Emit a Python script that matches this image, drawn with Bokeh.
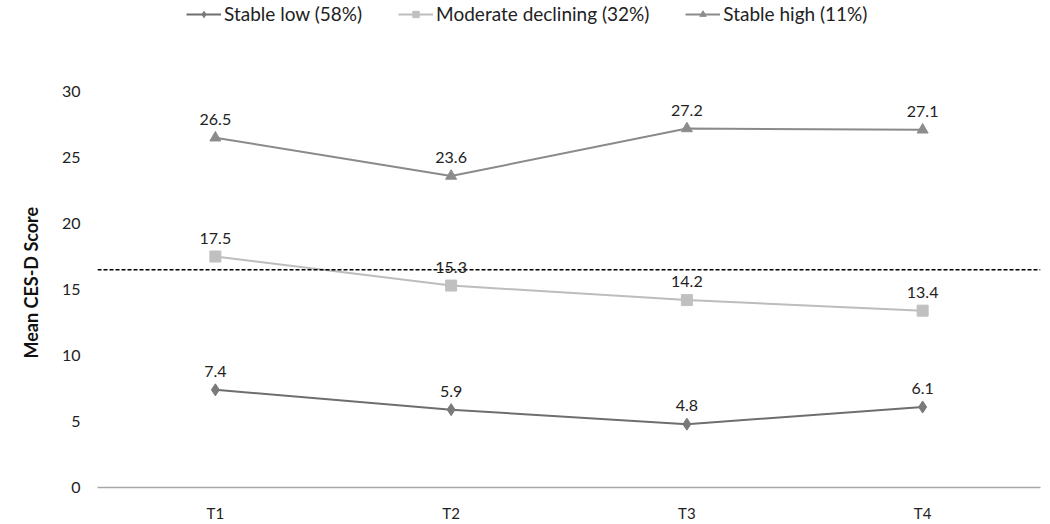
from bokeh.plotting import figure
from bokeh.models import (ColumnDataSource, Legend, LegendItem, LabelSet, Span,
                          Range1d, FixedTicker, FactorRange, Title)
from bokeh.core.properties import value
from bokeh.embed import file_html
from bokeh.resources import INLINE

times = ["T1", "T2", "T3", "T4"]
stable_low = [7.4, 5.9, 4.8, 6.1]
moderate_declining = [17.5, 15.3, 14.2, 13.4]
stable_high = [26.5, 23.6, 27.2, 27.1]
series_names = ["Stable low (58%)", "Moderate declining (32%)", "Stable high (11%)"]
cutoff = 16.5
y_ticks = [0, 5, 10, 15, 20, 25, 30]

FONT = "Lato"

p = figure(width=1050, height=524, x_range=FactorRange(factors=times, range_padding=0),
           y_range=Range1d(0, 36.9), output_backend="svg", toolbar_location=None,
           min_border_left=97, min_border_right=10, min_border_top=0, min_border_bottom=0)
p.outline_line_color = None
p.grid.grid_line_color = None
p.background_fill_color = "white"

# y axis
p.yaxis.ticker = FixedTicker(ticks=y_ticks)
p.yaxis.axis_line_color = None
p.yaxis.major_tick_line_color = None
p.yaxis.minor_tick_line_color = None
p.yaxis.major_tick_out = 0
p.yaxis.major_tick_in = 0
p.yaxis.major_label_standoff = 17
p.yaxis.major_label_text_font = FONT
p.yaxis.major_label_text_font_size = "16px"
p.yaxis.major_label_text_color = "#222222"

p.add_layout(Title(text="Mean CES-D Score", align="left", offset=129, standoff=34,
                   text_font=FONT, text_font_style="bold", text_font_size="18px",
                   text_color="#111111"), "left")

# x axis
p.xaxis.axis_line_color = "#a6a6a6"
p.xaxis.axis_line_width = 1.5
p.xaxis.major_tick_line_color = None
p.xaxis.minor_tick_line_color = None
p.xaxis.major_tick_out = 0
p.xaxis.major_tick_in = 0
p.xaxis.major_label_standoff = 16
p.xaxis.major_label_text_font = FONT
p.xaxis.major_label_text_font_size = "15px"
p.xaxis.major_label_text_color = "#222222"

# cutoff dashed line
p.add_layout(Span(location=cutoff, dimension="width", line_color="black",
                  line_dash="4 2", line_width=1.5))

specs = [
    (stable_low, "#6e6e6e", "#7a7a7a", "diamond", 12),
    (moderate_declining, "#bdbdbd", "#c0c0c0", "square", 11),
    (stable_high, "#8a8a8a", "#8c8c8c", "triangle", 11),
]

items = []
for name, (vals, lc, mc, marker, size) in zip(series_names, specs):
    src = ColumnDataSource(dict(x=times, y=vals, lbl=[f"{v:.1f}" for v in vals]))
    lr = p.line("x", "y", source=src, line_color=lc, line_width=2)
    sr = p.scatter("x", "y", source=src, marker=marker, size=size,
                   fill_color=mc, line_color=mc)
    p.add_layout(LabelSet(x="x", y="y", text="lbl", source=src, y_offset=13,
                          text_align="center", text_baseline="bottom",
                          text_font=value(FONT), text_font_size="16px",
                          text_color="#222222"))
    items.append(LegendItem(label=name, renderers=[lr, sr]))

legend = Legend(items=items, orientation="horizontal", location=(89, 462),
                glyph_width=35, glyph_height=16, label_height=16, label_standoff=3,
                spacing=36, padding=0, margin=0, border_line_alpha=0,
                background_fill_alpha=0, label_text_font=FONT,
                label_text_font_size="19px", label_text_color="#222222")
p.add_layout(legend, "center")

open("out.html", "w").write(file_html(p, INLINE))
